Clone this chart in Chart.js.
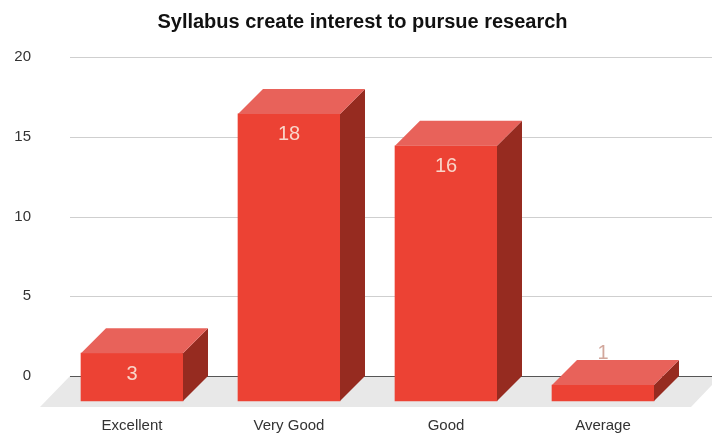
<!DOCTYPE html>
<html>
<head>
<meta charset="utf-8">
<title>Syllabus create interest to pursue research</title>
<script src="https://cdn.jsdelivr.net/npm/chart.js@4/dist/chart.umd.min.js"></script>
<style>
  html, body { margin: 0; padding: 0; background: #fff; }
  canvas { display: block; }
</style>
</head>
<body>
<canvas id="chart" width="712" height="435"></canvas>
<script>
const categories = ['Excellent', 'Very Good', 'Good', 'Average'];
const responses = [3, 18, 16, 1];
const titleText = 'Syllabus create interest to pursue research';

const DEPTH = 25; // how far the front of a bar sits from the wall
const FONT = '"Liberation Sans", Arial, sans-serif';

// gridlines and floor sit behind the bars, on the back wall
const wallPlugin = {
    id: 'wall',
    afterLayout(chart) {
        // title is not centred on the canvas in the original
        chart.titleBlock.left += 9.25;
        chart.titleBlock.right += 9.25;
    },
    beforeDatasetsDraw(chart) {
        const ctx = chart.ctx;
        const y = chart.scales.y;
        const zero = y.getPixelForValue(0);

        ctx.save();
        ctx.fillStyle = '#e8e8e8';
        ctx.beginPath();
        ctx.moveTo(70, zero);
        ctx.lineTo(712, zero);
        ctx.lineTo(712, zero + 9);
        ctx.lineTo(691, zero + 31);
        ctx.lineTo(40, zero + 31);
        ctx.closePath();
        ctx.fill();

        y.ticks.forEach(tick => {
            const py = Math.round(y.getPixelForValue(tick.value)) + 0.5;
            ctx.strokeStyle = tick.value === 0 ? '#555555' : '#cfcfcf';
            ctx.lineWidth = 1;
            ctx.beginPath();
            ctx.moveTo(70, py);
            ctx.lineTo(712, py);
            ctx.stroke();
        });
        ctx.restore();
    }
};

// native bar is the front face, pushed forward; top and side are added around it
const boxPlugin = {
    id: 'box',
    beforeDatasetDraw(chart) {
        chart.ctx.save();
        chart.ctx.translate(-DEPTH, DEPTH);
    },
    afterDatasetDraw(chart, args) {
        const ctx = chart.ctx;
        ctx.restore();
        args.meta.data.forEach(bar => {
            const left = bar.x - DEPTH - bar.width / 2;
            const right = bar.x - DEPTH + bar.width / 2;
            const top = bar.y + DEPTH;
            const bottom = bar.base + DEPTH;

            ctx.fillStyle = '#962b20';
            ctx.beginPath();
            ctx.moveTo(right, top);
            ctx.lineTo(right + DEPTH, top - DEPTH);
            ctx.lineTo(right + DEPTH, bottom - DEPTH);
            ctx.lineTo(right, bottom);
            ctx.closePath();
            ctx.fill();

            ctx.fillStyle = '#e8625a';
            ctx.beginPath();
            ctx.moveTo(left, top);
            ctx.lineTo(left + DEPTH, top - DEPTH);
            ctx.lineTo(right + DEPTH, top - DEPTH);
            ctx.lineTo(right, top);
            ctx.closePath();
            ctx.fill();
        });
    },
    afterDatasetsDraw(chart) {
        const ctx = chart.ctx;
        const meta = chart.getDatasetMeta(0);
        ctx.save();
        ctx.font = '20px ' + FONT;
        ctx.textAlign = 'center';
        ctx.textBaseline = 'middle';
        meta.data.forEach((bar, i) => {
            const frontTop = bar.y + DEPTH;
            const frontHeight = bar.base - bar.y;
            const short = frontHeight < 30;
            ctx.fillStyle = short ? '#d2a79c' : '#f9d5c9';
            ctx.fillText(responses[i], bar.x - DEPTH, short ? bar.y - 7 : frontTop + 21);
        });
        ctx.restore();
    }
};

new Chart(document.getElementById('chart'), {
    type: 'bar',
    data: {
        labels: categories,
        datasets: [{
            data: responses,
            backgroundColor: '#ec4234',
            borderWidth: 0,
            barThickness: 102,
            clip: false
        }]
    },
    options: {
        responsive: false,
        animation: false,
        layout: {
            padding: { left: 0, right: 5.5, top: 0, bottom: 0 }
        },
        plugins: {
            legend: { display: false },
            tooltip: { enabled: false },
            title: {
                display: true,
                text: titleText,
                color: '#111111',
                font: { family: FONT, size: 20, weight: 'bold' },
                padding: { top: 10, bottom: 23 }
            }
        },
        scales: {
            x: {
                grid: { display: false },
                border: { display: false },
                afterFit(scale) { scale.height = 59; },
                ticks: {
                    color: '#333333',
                    font: { family: FONT, size: 15 },
                    labelOffset: -DEPTH,
                    padding: 33,
                    maxRotation: 0
                }
            },
            y: {
                min: 0,
                max: 20,
                grid: { display: false },
                border: { display: false },
                afterFit(scale) { scale.width = 78.5; },
                ticks: {
                    stepSize: 5,
                    color: '#333333',
                    font: { family: FONT, size: 15 },
                    padding: 39.5
                }
            }
        }
    },
    plugins: [wallPlugin, boxPlugin]
});
</script>
</body>
</html>
